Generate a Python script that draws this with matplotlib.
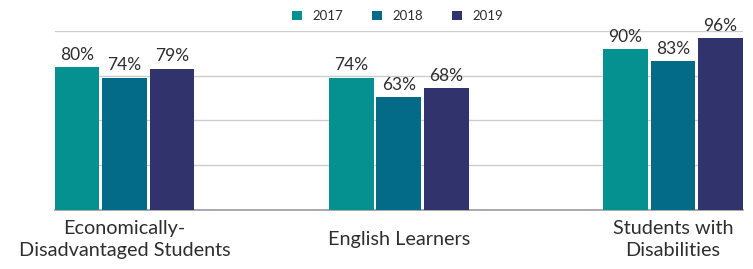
import matplotlib.pyplot as plt
import numpy as np

plt.rcParams['font.family'] = ['Lato', 'DejaVu Sans']

# Data
groups = ["Economically-\nDisadvantaged Students", "English Learners", "Students with\nDisabilities"]
years = ["2017", "2018", "2019"]
rate_2017 = [80, 74, 90]
rate_2018 = [74, 63, 83]
rate_2019 = [79, 68, 96]

colors = ["#04918F", "#036A88", "#31336C"]
text_col = "#2e2e2e"

fig = plt.figure(figsize=(7.53, 2.69), dpi=100)
ax = fig.add_axes([0.0724, 0.2193, 0.9143, 0.6655])

x = np.arange(len(groups))
pitch = 0.1734
width = 0.163
series = [rate_2017, rate_2018, rate_2019]

for i, (vals, yr, col) in enumerate(zip(series, years, colors)):
    xs = x + (i - 1) * pitch
    bars = ax.bar(xs, vals, width=width, color=col, label=yr, zorder=3)
    for b, v in zip(bars, vals):
        ax.annotate(f"{v}%", (b.get_x() + b.get_width() / 2, v),
                    xytext=(0, 3), textcoords="offset points",
                    ha="center", va="bottom", fontsize=12.5, color=text_col)

ax.set_xlim(-0.255, 2.255)
ax.set_ylim(0, 100)
ax.set_yticks([25, 50, 75, 100])
ax.yaxis.grid(True, color="#cccccc", linewidth=1, zorder=0)
ax.tick_params(axis="y", length=0, labelleft=False)

ax.set_xticks(x)
ax.set_xticklabels(groups, fontsize=14.3, color=text_col, linespacing=1.35)
for lab in ax.get_xticklabels():
    lab.set_verticalalignment("center")
ax.tick_params(axis="x", length=0, pad=21)

for s in ["left", "right", "top"]:
    ax.spines[s].set_visible(False)
ax.spines["bottom"].set_color("#9a9a9a")
ax.spines["bottom"].set_linewidth(1.2)

fig.legend(loc="center", bbox_to_anchor=(0.528, 0.94), ncol=3, frameon=False,
           fontsize=9.5, handlelength=0.75, handleheight=0.75,
           columnspacing=2.2, handletextpad=0.8, labelcolor=text_col)

fig.savefig("out.png", dpi=100)
